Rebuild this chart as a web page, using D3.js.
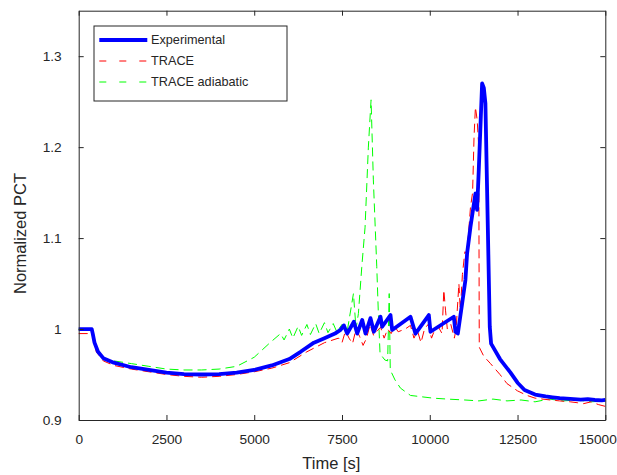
<!DOCTYPE html>
<html>
<head>
<meta charset="utf-8">
<script src="https://cdn.jsdelivr.net/npm/d3@7"></script>
<style>
    body { margin: 0; background: #fff; }
    text { font-family: "Liberation Sans", Arial, sans-serif; fill: #262626; }
    .axis path, .axis line { stroke: #262626; }
</style>
</head>
<body>
<div id="chart"></div>
<script>
// --- data ---
const expTime = [0, 370, 400, 450, 550, 700, 1000, 1500, 2000, 2500, 3000, 3500, 4000, 4500, 5000, 5500, 6000, 6320, 6700, 7000, 7300,
    7458, 7553, 7648, 7838, 7933, 8076, 8170, 8312, 8407, 8597, 8644, 8881, 8929, 9451, 9593, 9973, 10020, 10685, 10732, 10800,
    10922, 11016, 11063, 11158, 11301, 11348, 11396, 11491, 11540, 11585, 11709, 11747, 12000, 12300, 12500, 12700, 13000,
    13300, 13500, 13700, 13900, 14100, 14300, 14500, 14700, 14900, 15000];
const expPct = [1.000, 1.000, 0.995, 0.985, 0.975, 0.968, 0.963, 0.958, 0.955, 0.952, 0.9505, 0.950, 0.9505, 0.952, 0.955, 0.960, 0.967, 0.975, 0.985, 0.990, 0.995,
    0.999, 1.004, 0.995, 1.008, 0.995, 1.010, 0.995, 1.012, 0.997, 1.0135, 1.0025, 1.0154, 0.999, 1.0135, 0.995, 1.0154, 0.997, 1.0135, 0.997, 0.995,
    1.028, 1.054, 1.083, 1.112, 1.149, 1.131, 1.175, 1.270, 1.265, 1.248, 1.0025, 0.984, 0.967, 0.952, 0.941, 0.933, 0.928,
    0.926, 0.925, 0.924, 0.9235, 0.923, 0.9225, 0.923, 0.922, 0.9215, 0.922];

const traceTime = [0, 370, 420, 500, 700, 1000, 1500, 2000, 2500, 3000, 3500, 4000, 4500, 5000, 5500, 6000, 6500, 7000, 7400,
    7500, 7600, 7700, 7800, 7900, 8000, 8100, 8200, 8300, 8400, 8500, 8600, 8700, 8800, 8900, 9000, 9100, 9300, 9450, 9550,
    9650, 9750, 9850, 9950, 10050, 10150, 10250, 10350, 10400, 10450, 10500, 10600, 10700, 10750, 10830, 10870, 10930, 11000,
    11060, 11160, 11220, 11260, 11300, 11350, 11396, 11410, 11540, 11730, 12000, 12200, 12500, 12770, 13000, 13436, 13700,
    14000, 14200, 14384, 14600, 14800, 15000];
const tracePct = [0.995, 0.995, 0.990, 0.975, 0.965, 0.960, 0.956, 0.953, 0.950, 0.948, 0.947, 0.948, 0.950, 0.953, 0.957, 0.963, 0.975, 0.985, 0.990,
    0.985, 0.998, 0.990, 0.984, 1.000, 0.992, 0.982, 0.990, 1.005, 0.993, 0.998, 1.002, 0.990, 1.000, 0.995, 1.003, 0.997, 1.000, 1.004, 0.990,
    0.998, 0.985, 1.000, 1.005, 0.990, 1.000, 1.002, 0.995, 1.043, 1.020, 1.000, 1.005, 0.990, 1.000, 1.050, 1.020, 1.060, 1.085,
    1.083, 1.134, 1.150, 1.210, 1.244, 1.230, 1.200, 0.980, 0.970, 0.962, 0.950, 0.940, 0.932, 0.927, 0.924, 0.922, 0.921,
    0.920, 0.919, 0.918, 0.920, 0.917, 0.915];

const adiaTime = [0, 370, 420, 500, 700, 1000, 1500, 2000, 2500, 3000, 3500, 4000, 4500, 5000, 5450, 5750, 5850, 6000, 6100, 6250,
    6350, 6500, 6600, 6750, 6850, 7000, 7100, 7250, 7350, 7500, 7650, 7826, 7900, 7967, 8063, 8157, 8251, 8328, 8393, 8490,
    8535, 8584, 8720, 8800, 8845, 8875, 9011, 9166, 9451, 10100, 10500, 11000, 11400, 11800, 12200, 12600, 13000, 13400,
    13800, 14200, 14600, 15000];
const adiaPct = [1.000, 1.000, 0.993, 0.980, 0.968, 0.965, 0.962, 0.959, 0.956, 0.955, 0.955, 0.956, 0.959, 0.969, 0.985, 0.995, 0.988, 1.000, 0.990, 1.003,
    0.993, 1.005, 0.994, 1.006, 0.995, 1.007, 0.996, 1.006, 0.997, 1.005, 0.998, 1.039, 1.000, 1.017, 1.068, 1.112, 1.200, 1.252, 1.164, 1.069,
    1.018, 0.973, 0.966, 0.965, 1.039, 0.955, 0.944, 0.935, 0.927, 0.924, 0.923, 0.922, 0.921, 0.923, 0.921, 0.922, 0.920, 0.923,
    0.921, 0.922, 0.920, 0.921];

const xTicks = [0, 2500, 5000, 7500, 10000, 12500, 15000];
const yTicks = [0.9, 1.0, 1.1, 1.2, 1.3];
const seriesNames = ["Experimental", "TRACE", "TRACE adiabatic"];

const W = 617, H = 475;
const margin = { top: 10.7, right: 11.7, bottom: 55, left: 78.7 };
const width = W - margin.left - margin.right,
    height = H - margin.top - margin.bottom;

const x = d3.scaleLinear().domain([0, 15000]).range([0, width]);
const y = d3.scaleLinear().domain([0.9, 1.35]).range([height, 0]);

const svg = d3.select("#chart").append("svg")
    .attr("width", W)
    .attr("height", H);

const g = svg.append("g")
    .attr("transform", "translate(" + margin.left + "," + margin.top + ")");

// series, drawn green/red first so the thick blue stays on top
const series = [
    { name: seriesNames[2], t: adiaTime, v: adiaPct, color: "#00ff00", w: 1, dash: "9,5", legendDash: "7,13" },
    { name: seriesNames[1], t: traceTime, v: tracePct, color: "#ff0000", w: 1, dash: "9,5", legendDash: "7,13" },
    { name: seriesNames[0], t: expTime, v: expPct, color: "#0000ff", w: 3.8, dash: null, legendDash: null }
];

const line = d3.line()
    .x(function (d) { return x(d[0]); })
    .y(function (d) { return y(d[1]); });

g.selectAll(".series")
    .data(series)
    .enter().append("path")
    .attr("class", "series")
    .attr("fill", "none")
    .attr("stroke", function (d) { return d.color; })
    .attr("stroke-width", function (d) { return d.w; })
    .attr("stroke-dasharray", function (d) { return d.dash; })
    .attr("stroke-linejoin", "round")
    .attr("d", function (d) { return line(d3.zip(d.t, d.v)); });

// axes: ticks point inwards on all four sides (matlab box)
const fmtY = function (d) { return d === 1 ? "1" : d3.format(".1f")(d); };

const xAxisG = g.append("g")
    .attr("class", "axis")
    .attr("transform", "translate(0," + height + ")")
    .call(d3.axisBottom(x).tickValues(xTicks).tickSizeInner(-5).tickSizeOuter(0).tickPadding(14).tickFormat(d3.format("d")));
xAxisG.selectAll("text").style("font-size", "13.7px");
// last label would run past the window edge, pull it in
xAxisG.selectAll(".tick text")
    .filter(function (d) { return d === 15000; })
    .attr("text-anchor", "end")
    .attr("x", 11);

g.append("g")
    .attr("class", "axis")
    .call(d3.axisLeft(y).tickValues(yTicks).tickSizeInner(-5).tickSizeOuter(0).tickPadding(17).tickFormat(fmtY))
    .selectAll("text").style("font-size", "13.7px");

g.append("g")
    .attr("class", "axis")
    .call(d3.axisTop(x).tickValues(xTicks).tickSizeInner(-5).tickSizeOuter(0).tickFormat(""));

g.append("g")
    .attr("class", "axis")
    .attr("transform", "translate(" + width + ",0)")
    .call(d3.axisRight(y).tickValues(yTicks).tickSizeInner(-5).tickSizeOuter(0).tickFormat(""));

g.selectAll(".axis text").attr("fill", "#262626");
g.selectAll(".axis .tick line").attr("stroke", "#262626");

// axis titles
svg.append("text")
    .attr("x", 331.3)
    .attr("y", 469.3)
    .attr("text-anchor", "middle")
    .style("font-size", "16.5px")
    .text("Time [s]");

svg.append("text")
    .attr("transform", "translate(26,233.5) rotate(-90)")
    .attr("text-anchor", "middle")
    .style("font-size", "16.5px")
    .text("Normalized PCT");

// legend
const legend = svg.append("g").attr("transform", "translate(94,26)");
legend.append("rect")
    .attr("width", 193)
    .attr("height", 75)
    .attr("fill", "#fff")
    .attr("stroke", "#262626")
    .attr("stroke-width", 1);

const items = legend.selectAll(".item")
    .data(series.slice().reverse())
    .enter().append("g")
    .attr("class", "item")
    .attr("transform", function (d, i) { return "translate(0," + (14 + i * 21) + ")"; });

items.append("line")
    .attr("x1", 5.3).attr("x2", 53.3)
    .attr("stroke", function (d) { return d.color; })
    .attr("stroke-width", function (d) { return d.w; })
    .attr("stroke-dasharray", function (d) { return d.legendDash; });

items.append("text")
    .attr("x", 57)
    .attr("dy", "0.35em")
    .style("font-size", "12.7px")
    .text(function (d) { return d.name; });
</script>
</body>
</html>
